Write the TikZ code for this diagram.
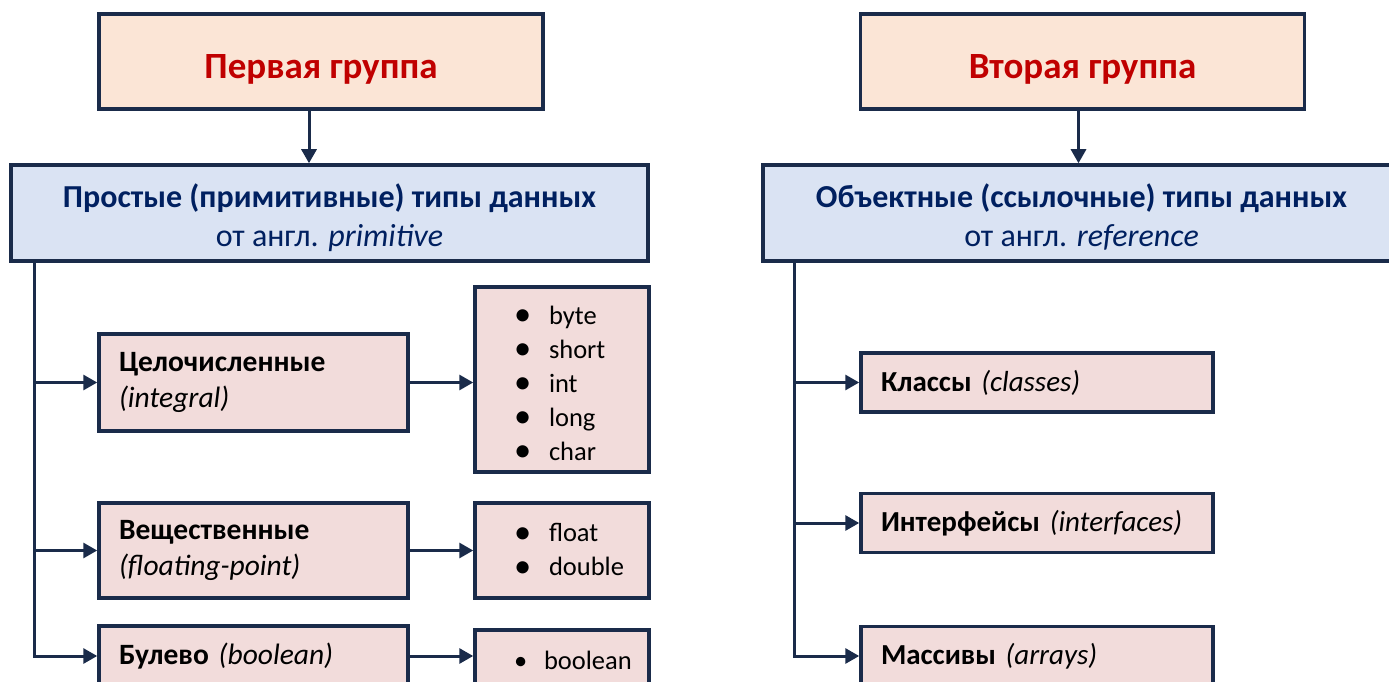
\documentclass[tikz,border=0pt]{standalone}
\usepackage{fontspec}
\setmainfont{Carlito}
\usetikzlibrary{arrows.meta}
\definecolor{peach}{HTML}{FBE5D6}
\definecolor{lightblue}{HTML}{DAE3F3}
\definecolor{lightpink}{HTML}{F2DCDB}
\definecolor{darkred}{HTML}{C00000}
\definecolor{navy}{HTML}{002060}
\definecolor{edgeblue}{HTML}{1A2B4A}
\newcommand{\bul}{\makebox[35pt][l]{\raisebox{-0.06em}{\scalebox{1.3}{\textbullet}}}}

\begin{document}
\begin{tikzpicture}[x=1pt,y=-1pt,
    group/.style={draw=edgeblue,line width=3.5pt,fill=peach,minimum width=444pt,minimum height=95pt,text=darkred,text height=34pt,text depth=0pt,font=\fontsize{37}{44}\selectfont\bfseries},
    kind/.style={draw=edgeblue,line width=3.5pt,fill=lightblue,minimum width=637pt,minimum height=96pt,align=center,text=navy,text height=67pt,text depth=0pt,font=\fontsize{32}{39}\selectfont},
    sub/.style={draw=edgeblue,line width=3.5pt,fill=lightpink,text width=269pt,inner xsep=20pt,minimum height=97pt,align=left,font=\fontsize{29.5}{36}\selectfont},
    ref/.style={sub,text width=312pt,minimum height=59pt,font=\fontsize{29}{36}\selectfont},
    items/.style={draw=edgeblue,line width=3.5pt,fill=lightpink,text width=96pt,inner xsep=39pt,align=left,font=\fontsize{26.5}{34}\selectfont},
    conn/.style={draw=edgeblue,line width=3pt,-{Triangle[length=14pt,width=15pt]}}]

\useasboundingbox (0,0) rectangle (1389,682);
\clip (0,0) rectangle (1389,682);

% first group
\node[group] (g1) at (321,61.5) {Первая группа};
\node[kind] (k1) at (329.5,213) {\textbf{Простые (примитивные) типы данных}\\от англ. \textit{primitive}};
\node[sub] (int) at (253.5,382.5) {\textbf{Целочисленные}\\\textit{(integral)}};
\node[sub,minimum height=95pt] (real) at (253.5,550.5) {\textbf{Вещественные}\\\textit{(floating-point)}};
\node[sub,minimum height=60pt] (bool) at (253.5,656) {\textbf{Булево} \textit{(boolean)}};
\node[items,minimum height=185pt,text height=27pt] (l1) at (562,379.5) {\bul byte\\\bul short\\\bul int\\\bul long\\\bul char};
\node[items,minimum height=95pt] (l2) at (562,550.5) {\bul float\\\bul double};
\node[items,minimum height=60pt] (l3) at (562,660) {\makebox[30pt][l]{\textbullet}boolean};

\draw[conn] ([xshift=-12pt]g1.south) -- ([xshift=-12pt]g1.south |- k1.north);
\draw[conn] ([xshift=25pt]k1.south west) |- (int.west);
\draw[conn] ([xshift=25pt]k1.south west) |- (real.west);
\draw[conn] ([xshift=25pt]k1.south west) |- (bool.west);
\draw[conn] (int.east) -- (int.east -| l1.west);
\draw[conn] (real.east) -- (real.east -| l2.west);
\draw[conn] (bool.east) -- (bool.east -| l3.west);

% second group
\node[group] (g2) at (1082.5,61.5) {Вторая группа};
\node[kind] (k2) at (1081.5,213) {\textbf{Объектные (ссылочные) типы данных}\\от англ. \textit{reference}};
\node[ref] (cls) at (1037,382.5) {\textbf{Классы} \textit{(classes)}};
\node[ref] (ifc) at (1037,523) {\textbf{Интерфейсы} \textit{(interfaces)}};
\node[ref] (arr) at (1037,656) {\textbf{Массивы} \textit{(arrays)}};

\draw[conn] ([xshift=-4pt]g2.south) -- ([xshift=-4pt]g2.south |- k2.north);
\draw[conn] ([xshift=33pt]k2.south west) |- (cls.west);
\draw[conn] ([xshift=33pt]k2.south west) |- (ifc.west);
\draw[conn] ([xshift=33pt]k2.south west) |- (arr.west);

\end{tikzpicture}
\end{document}
